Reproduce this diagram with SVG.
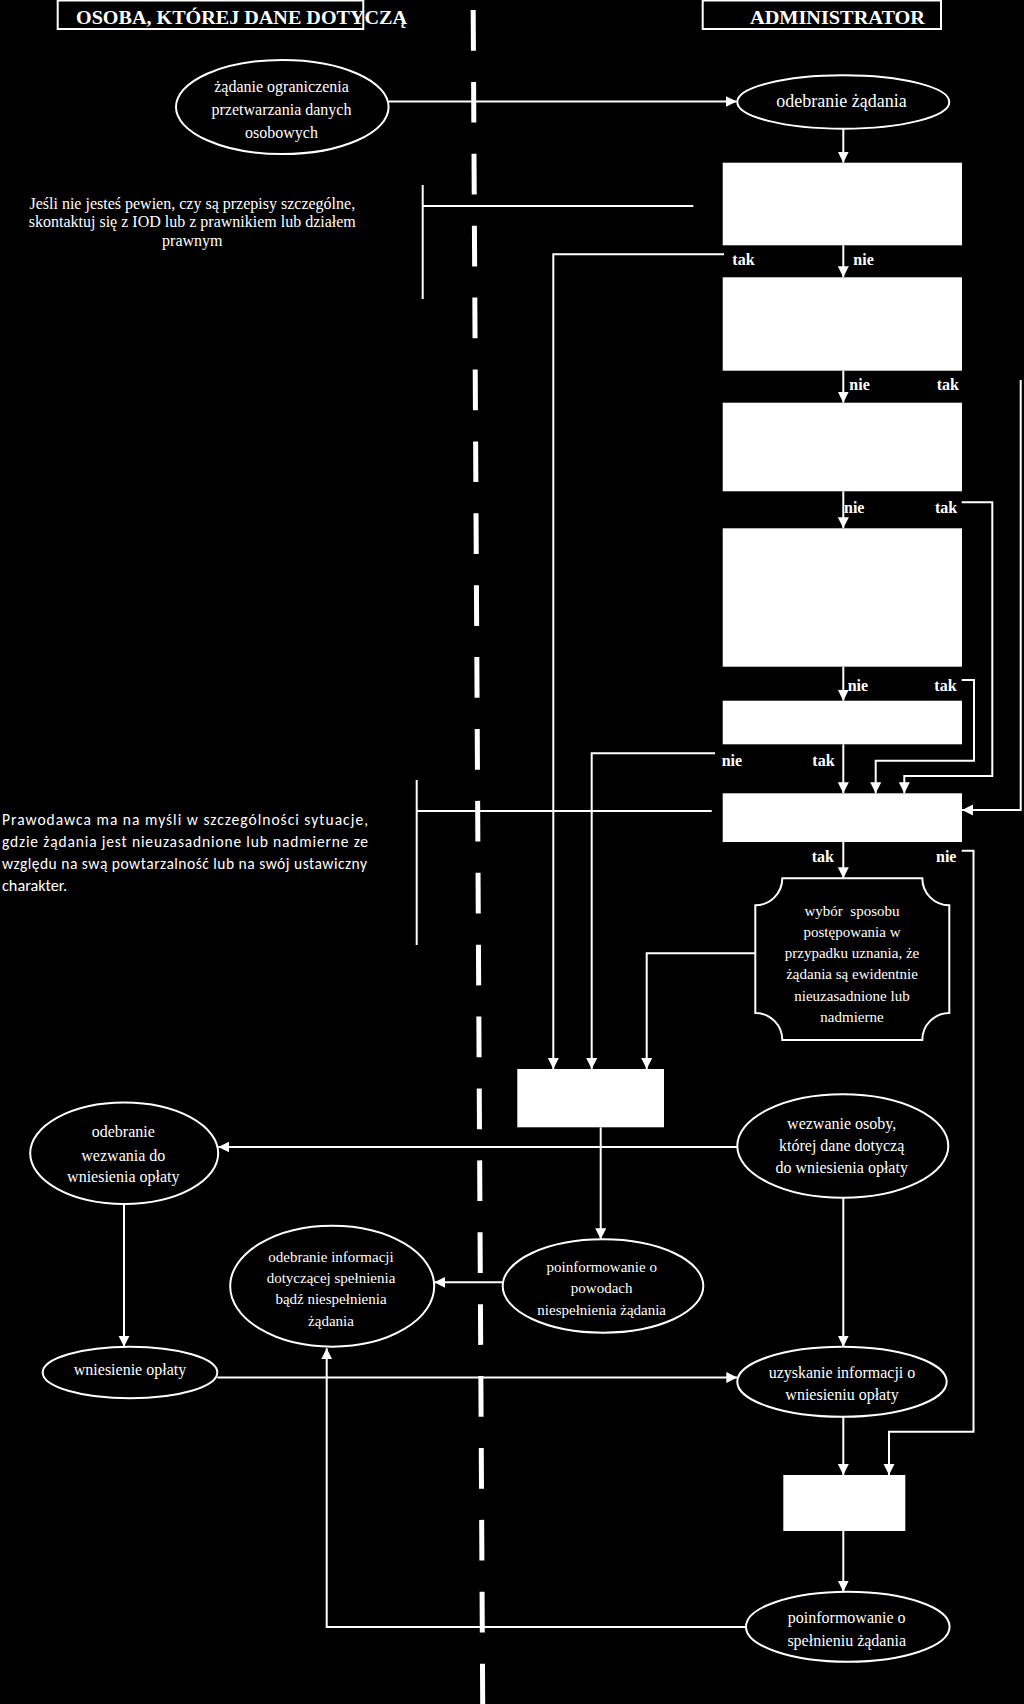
<svg xmlns="http://www.w3.org/2000/svg" width="1024" height="1704" viewBox="0 0 1024 1704">
<style>
.bg{fill:#000}
.ln{fill:none;stroke:#fff;stroke-width:2}
.arr{fill:none;stroke:#fff;stroke-width:2;marker-end:url(#ah)}
.node{fill:#000;stroke:#fff;stroke-width:2}
.wbox{fill:#fff;stroke:none}
.t{font-family:"Liberation Serif","Times New Roman",serif;font-size:16px;fill:#fff;text-anchor:middle}
.t15{font-size:15px}
.h{font-family:"Liberation Serif","Times New Roman",serif;font-size:19px;font-weight:bold;fill:#fff}
.lb{font-family:"Liberation Serif","Times New Roman",serif;font-size:16px;font-weight:bold;fill:#fff}
.note{font-family:"Carlito","Lato","Open Sans",sans-serif;font-size:15.5px;fill:#fff}
</style>
<defs>
<marker id="ah" markerUnits="userSpaceOnUse" markerWidth="12" markerHeight="12" refX="11" refY="5.5" orient="auto">
<path d="M0,0 L11,5.5 L0,11 Z" fill="#fff"/>
</marker>
</defs>
<rect class="bg" x="0" y="0" width="1024" height="1704"/>

<g id="swimlane-divider">
<line x1="473.2" y1="10" x2="482.7" y2="1704" stroke="#fff" stroke-width="5" stroke-dasharray="40.7 31.2"/>
</g>

<g id="header-left">
<rect class="ln" x="57.7" y="0.5" width="305.6" height="28.5"/>
<text class="h" x="76" y="24" textLength="331" lengthAdjust="spacingAndGlyphs">OSOBA, KTÓREJ DANE DOTYCZĄ</text>
</g>
<g id="header-right">
<rect class="ln" x="702.7" y="0.5" width="238.3" height="28.5"/>
<text class="h" x="750" y="24" textLength="175" lengthAdjust="spacingAndGlyphs">ADMINISTRATOR</text>
</g>

<g id="connectors">
<!-- horizontal flows -->
<line class="arr" x1="388.7" y1="101.5" x2="736.7" y2="101.5"/>
<line class="arr" x1="737.3" y1="1147" x2="218.3" y2="1147"/>
<line class="arr" x1="502.7" y1="1282.3" x2="434.3" y2="1282.3"/>
<line class="arr" x1="217.3" y1="1377.5" x2="737.3" y2="1377.5"/>
<polyline class="arr" points="746,1627 326.7,1627 326.7,1348.3"/>
<line class="arr" x1="124" y1="1204" x2="124" y2="1346.7"/>
<!-- central column -->
<line class="arr" x1="843.3" y1="128.7" x2="843.3" y2="162.7"/>
<line class="arr" x1="843.3" y1="245.3" x2="843.3" y2="277.3"/>
<line class="arr" x1="843.3" y1="370.7" x2="843.3" y2="402.7"/>
<line class="arr" x1="843.3" y1="491.3" x2="843.3" y2="528.3"/>
<line class="arr" x1="843.3" y1="666.7" x2="843.3" y2="700.7"/>
<line class="arr" x1="843.3" y1="744.3" x2="843.3" y2="793.3"/>
<line class="arr" x1="843.3" y1="842" x2="843.3" y2="878.3"/>
<line class="arr" x1="600.7" y1="1127.3" x2="600.7" y2="1239.3"/>
<line class="arr" x1="843.3" y1="1182" x2="843.3" y2="1346.7"/>
<line class="arr" x1="843.3" y1="1416.7" x2="843.3" y2="1475"/>
<line class="arr" x1="843.3" y1="1531" x2="843.3" y2="1591.7"/>
<!-- branches to left box -->
<polyline class="arr" points="724,254.3 553.3,254.3 553.3,1069"/>
<polyline class="arr" points="715,753.3 591.7,753.3 591.7,1069"/>
<polyline class="arr" points="755.3,953.3 646.7,953.3 646.7,1069"/>
<!-- right side branches -->
<polyline class="arr" points="1020.7,380 1020.7,810 962,810"/>
<polyline class="arr" points="961.7,502.3 992.3,502.3 992.3,776 904.3,776 904.3,793.3"/>
<polyline class="arr" points="961.7,680 974,680 974,760.7 875.7,760.7 875.7,793.3"/>
<polyline class="arr" points="961.7,850.7 973.5,850.7 973.5,1431.7 889,1431.7 889,1475"/>
<!-- annotation brackets -->
<polyline class="ln" points="422.7,185 422.7,299"/>
<line class="ln" x1="422.7" y1="206" x2="693.3" y2="206"/>
<polyline class="ln" points="416.7,780 416.7,945"/>
<line class="ln" x1="416.7" y1="811" x2="711.7" y2="811"/>
</g>

<g id="labels">
<text class="lb" x="732.3" y="265">tak</text>
<text class="lb" x="853.3" y="265">nie</text>
<text class="lb" x="849.3" y="390">nie</text>
<text class="lb" x="936.7" y="390">tak</text>
<text class="lb" x="844" y="513.3">nie</text>
<text class="lb" x="935" y="513.3">tak</text>
<text class="lb" x="847.7" y="690.7">nie</text>
<text class="lb" x="934.3" y="690.7">tak</text>
<text class="lb" x="721.7" y="765.7">nie</text>
<text class="lb" x="812.3" y="765.7">tak</text>
<text class="lb" x="811.7" y="862">tak</text>
<text class="lb" x="936" y="862">nie</text>
</g>

<g id="n-zadanie">
<ellipse class="node" cx="282.3" cy="107" rx="106.3" ry="47"/>
<text class="t" x="281.5" y="92">żądanie ograniczenia</text>
<text class="t" x="281.5" y="115">przetwarzania danych</text>
<text class="t" x="281.5" y="137.7">osobowych</text>
</g>
<g id="n-odebranie-zadania">
<ellipse class="node" cx="843.3" cy="102" rx="106" ry="26.7"/>
<text class="t" style="font-size:18px" x="841.5" y="107">odebranie żądania</text>
</g>
<g id="n-box1"><rect class="wbox" x="722.7" y="162.7" width="239.3" height="82.6"/></g>
<g id="n-box2"><rect class="wbox" x="722.7" y="277.3" width="239.3" height="93.4"/></g>
<g id="n-box3"><rect class="wbox" x="722.7" y="402.7" width="239.3" height="88.6"/></g>
<g id="n-box4"><rect class="wbox" x="722.7" y="528.3" width="239.3" height="138.4"/></g>
<g id="n-box5"><rect class="wbox" x="722.7" y="700.7" width="239.3" height="43.6"/></g>
<g id="n-box6"><rect class="wbox" x="722.7" y="793.3" width="239.3" height="48.7"/></g>

<g id="note-iod">
<text class="t" x="192.3" y="209">Jeśli nie jesteś pewien, czy są przepisy szczególne,</text>
<text class="t" x="192.3" y="227.3">skontaktuj się z IOD lub z prawnikiem lub działem</text>
<text class="t" x="192.3" y="245.7">prawnym</text>
</g>
<g id="note-prawodawca">
<text class="note" x="2" y="825" textLength="366" lengthAdjust="spacing">Prawodawca ma na myśli w szczególności sytuacje,</text>
<text class="note" x="2" y="847" textLength="366" lengthAdjust="spacing">gdzie żądania jest nieuzasadnione lub nadmierne ze</text>
<text class="note" x="2" y="868.8" textLength="365" lengthAdjust="spacing">względu na swą powtarzalność lub na swój ustawiczny</text>
<text class="note" x="2" y="890.6" textLength="65" lengthAdjust="spacingAndGlyphs">charakter.</text>
</g>

<g id="n-wybor">
<path class="node" d="M782.3,878.3 H922.3 A27,27 0 0 0 949.3,905.3 V1013 A27,27 0 0 0 922.3,1040 H782.3 A27,27 0 0 0 755.3,1013 V905.3 A27,27 0 0 0 782.3,878.3 Z"/>
<text class="t t15" x="852" y="915.7" xml:space="preserve">wybór  sposobu</text>
<text class="t t15" x="852" y="936.8">postępowania w</text>
<text class="t t15" x="852" y="958.2">przypadku uznania, że</text>
<text class="t t15" x="852" y="979.4">żądania są ewidentnie</text>
<text class="t t15" x="852" y="1000.7">nieuzasadnione lub</text>
<text class="t t15" x="852" y="1021.8">nadmierne</text>
</g>

<g id="n-box-left"><rect class="wbox" x="517.3" y="1069" width="146.7" height="58.3"/></g>

<g id="n-wezwanie">
<ellipse class="node" cx="842.8" cy="1146" rx="105.5" ry="51.7"/>
<text class="t" x="841.7" y="1129">wezwanie osoby,</text>
<text class="t" x="841.7" y="1151">której dane dotyczą</text>
<text class="t" x="841.7" y="1173">do wniesienia opłaty</text>
</g>
<g id="n-odebranie-wezwania">
<ellipse class="node" cx="124.2" cy="1153.3" rx="94" ry="50.7"/>
<text class="t" x="123.3" y="1137.3">odebranie</text>
<text class="t" x="123.3" y="1160.5">wezwania do</text>
<text class="t" x="123.3" y="1181.8">wniesienia opłaty</text>
</g>
<g id="n-odebranie-informacji">
<ellipse class="node" cx="332.2" cy="1286.2" rx="102" ry="60.5"/>
<text class="t t15" x="331" y="1261.7">odebranie informacji</text>
<text class="t t15" x="331" y="1283.3">dotyczącej spełnienia</text>
<text class="t t15" x="331" y="1304.3">bądź niespełnienia</text>
<text class="t t15" x="331" y="1325.5">żądania</text>
</g>
<g id="n-poinformowanie-powody">
<ellipse class="node" cx="603" cy="1286" rx="100.3" ry="46.7"/>
<text class="t t15" x="601.7" y="1271.5">poinformowanie o</text>
<text class="t t15" x="601.7" y="1293">powodach</text>
<text class="t t15" x="601.7" y="1314.5">niespełnienia żądania</text>
</g>
<g id="n-wniesienie">
<ellipse class="node" cx="130" cy="1372.5" rx="87.3" ry="25.8"/>
<text class="t" x="130" y="1375">wniesienie opłaty</text>
</g>
<g id="n-uzyskanie">
<ellipse class="node" cx="842" cy="1381.7" rx="104.7" ry="35"/>
<text class="t" x="842" y="1377.7">uzyskanie informacji o</text>
<text class="t" x="842" y="1400">wniesieniu opłaty</text>
</g>
<g id="n-box-final"><rect class="wbox" x="783.3" y="1475" width="122" height="56"/></g>
<g id="n-poinformowanie-spelnienie">
<ellipse class="node" cx="847.8" cy="1626.7" rx="101.8" ry="35"/>
<text class="t" x="846.7" y="1623.3">poinformowanie o</text>
<text class="t" x="846.7" y="1646">spełnieniu żądania</text>
</g>
</svg>
